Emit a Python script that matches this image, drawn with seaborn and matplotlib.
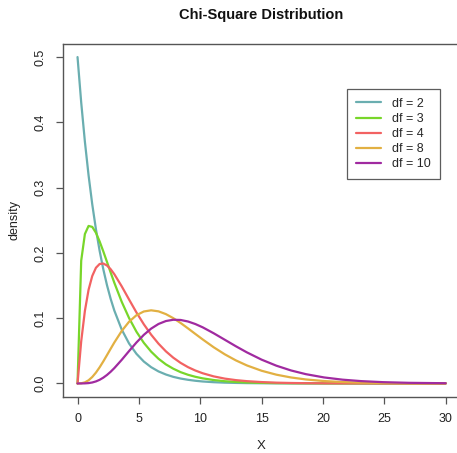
import matplotlib
matplotlib.use("Agg")
import matplotlib.pyplot as plt
import seaborn as sns
import pandas as pd
from matplotlib.lines import Line2D

x_vals = [0, 0.3, 0.6, 0.9, 1.2, 1.5, 1.8, 2.1, 2.4, 2.7, 3.0, 3.6, 4.2, 4.8, 5.4,
          6.0, 6.6, 7.2, 7.8, 8.4, 9.0, 9.6, 10.2, 11.1, 12.0, 12.9, 13.8, 15.0,
          16.2, 17.4, 18.6, 20.1, 21.6, 23.1, 24.9, 27.0, 30.0]

df2 = [0.5, 0.4304, 0.3704, 0.3188, 0.2744, 0.2362, 0.2033, 0.1750, 0.1506, 0.1296,
       0.1116, 0.0826, 0.0612, 0.0454, 0.0336, 0.0249, 0.0184, 0.0137, 0.0101, 0.0075,
       0.0056, 0.0041, 0.0030, 0.0019, 0.0012, 0.0008, 0.0005, 0.0003, 0.0002, 0.0001,
       0.00005, 0.00002, 0.00001, 0.0, 0.0, 0.0, 0.0]
df3 = [0.0, 0.1881, 0.2289, 0.2413, 0.2398, 0.2308, 0.2176, 0.2023, 0.1862, 0.1699,
       0.1542, 0.1251, 0.1002, 0.0793, 0.0623, 0.0487, 0.0378, 0.0292, 0.0226, 0.0173,
       0.0133, 0.0102, 0.0078, 0.0052, 0.0034, 0.0023, 0.0015, 0.0009, 0.0005, 0.0003,
       0.0002, 0.0001, 0.00004, 0.00002, 0.0, 0.0, 0.0]
df4 = [0.0, 0.0646, 0.1111, 0.1435, 0.1646, 0.1772, 0.1830, 0.1837, 0.1807, 0.1750,
       0.1673, 0.1488, 0.1286, 0.1088, 0.0907, 0.0747, 0.0609, 0.0492, 0.0395, 0.0315,
       0.0250, 0.0198, 0.0156, 0.0108, 0.0074, 0.0051, 0.0035, 0.0021, 0.0012, 0.0007,
       0.0004, 0.0002, 0.0001, 0.0001, 0.0, 0.0, 0.0]
df8 = [0.0, 0.00024, 0.00167, 0.00484, 0.00988, 0.01661, 0.02470, 0.03375, 0.04337,
       0.05314, 0.06275, 0.08034, 0.09454, 0.10449, 0.11023, 0.11203, 0.11045, 0.10622,
       0.10005, 0.09261, 0.08437, 0.07585, 0.06743, 0.05537, 0.04462, 0.03535, 0.02760,
       0.01944, 0.01344, 0.00914, 0.00613, 0.00365, 0.00214, 0.00124, 0.00063, 0.00028,
       0.00009]
df10 = [0.0, 0.00001, 0.00013, 0.00054, 0.00148, 0.00311, 0.00556, 0.00886, 0.01301,
        0.01793, 0.02353, 0.03615, 0.04963, 0.06269, 0.07441, 0.08402, 0.09112, 0.09560,
        0.09755, 0.09724, 0.09492, 0.09102, 0.08597, 0.07683, 0.06693, 0.05700, 0.04761,
        0.03645, 0.02722, 0.01988, 0.01425, 0.00917, 0.00578, 0.00358, 0.00196, 0.00095,
        0.00034]

labels = ["df = 2", "df = 3", "df = 4", "df = 8", "df = 10"]
series = [df2, df3, df4, df8, df10]
colors = ["#6aaeb0", "#78d62a", "#f26262", "#e2b042", "#a02aa0"]

rows = []
for lab, ys in zip(labels, series):
    for xv, yv in zip(x_vals, ys):
        rows.append({"x": xv, "density": yv, "df": lab})
data = pd.DataFrame(rows)

sns.set_style("white")
plt.rcParams["font.family"] = ["Liberation Sans", "DejaVu Sans"]

fig = plt.figure(figsize=(4.57, 4.53), dpi=100)
W, H = 457, 453
left, right, top, bottom = 62.8, 460.4, 44, 396.5
ax = fig.add_axes([left / W, (H - bottom) / H, (right - left) / W, (bottom - top) / H])

sns.lineplot(data=data, x="x", y="density", hue="df", palette=colors,
             linewidth=1.6, ax=ax, legend=False, sort=False)

ax.set_xlim(-1.2, 31.2)
ax.set_ylim(-0.02, 0.52)
ax.set_xticks([0, 5, 10, 15, 20, 25, 30])
ax.set_xticklabels(["0", "5", "10", "15", "20", "25", "30"])
ax.set_yticks([0.0, 0.1, 0.2, 0.3, 0.4, 0.5])
ax.set_yticklabels(["0.0", "0.1", "0.2", "0.3", "0.4", "0.5"], rotation=90, va="center")
for s in ax.spines.values():
    s.set_visible(True)
    s.set_color("#555555")
    s.set_linewidth(1.0)
ax.tick_params(axis="both", direction="out", length=5, width=0.9, color="#555555",
               labelsize=9, labelcolor="#222222", pad=7, left=True, bottom=True)
ax.set_xlabel("X", fontsize=9.5, color="#222222", labelpad=11)
ax.set_ylabel("density", fontsize=9, color="#222222", labelpad=10)
fig.text(261 / W, 1 - 15.5 / H, "Chi-Square Distribution", ha="center", va="center",
         fontsize=10.5, fontweight="bold", color="#111111")

handles = [Line2D([], [], color=c, linewidth=1.6) for c in colors]
leg = ax.legend(handles, labels, loc="upper left",
                bbox_to_anchor=((347 - left) / (right - left), (bottom - 89) / (bottom - top)),
                frameon=True, fancybox=False, edgecolor="#333333", fontsize=9,
                handlelength=2.0, handletextpad=0.9, borderpad=0.7, labelspacing=0.25,
                borderaxespad=0)
leg.get_frame().set_linewidth(0.9)

fig.savefig("out.png", dpi=100)
